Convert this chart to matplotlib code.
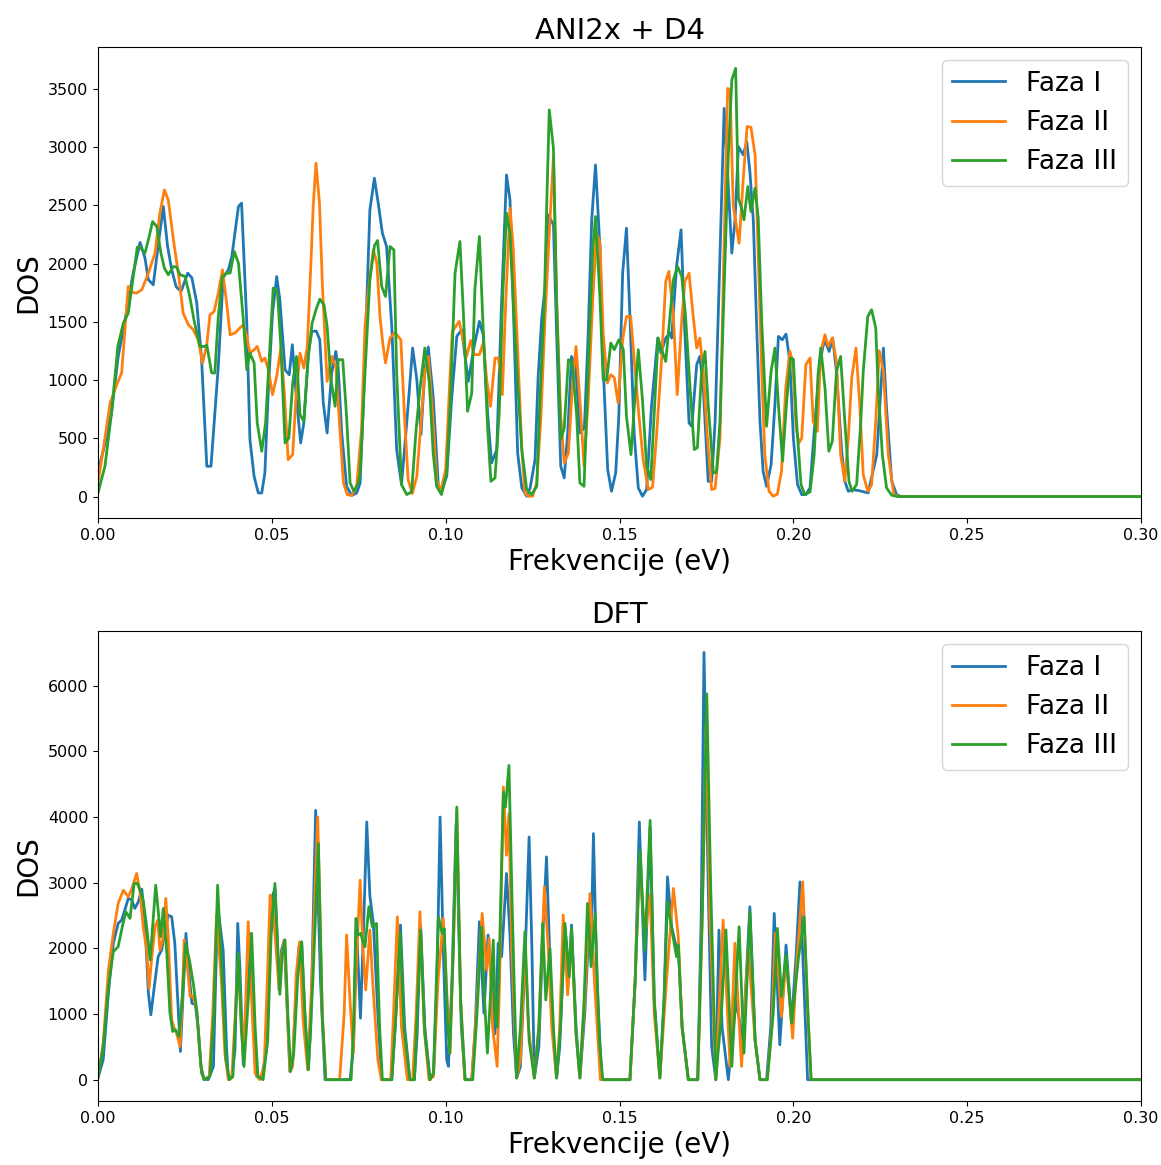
import numpy as np
import matplotlib
matplotlib.use("Agg")
import matplotlib.pyplot as plt

# --- dane: (frekwencja eV, DOS) ---
ani_faza1 = [
    (0.0, 217), (0.002, 450), (0.0039, 720), (0.0058, 1200), (0.0078, 1518), (0.0100, 1900),
    (0.0121, 2181), (0.0135, 2050), (0.0145, 1861), (0.0159, 1818), (0.0175, 2200), (0.0188, 2490),
    (0.0200, 2150), (0.0212, 1947), (0.0225, 1800), (0.0239, 1761), (0.0258, 1918), (0.0270, 1878),
    (0.0284, 1664), (0.0298, 1175), (0.0313, 260), (0.0325, 260), (0.0346, 1118), (0.0360, 1878),
    (0.0375, 1947), (0.0385, 2061), (0.0404, 2490), (0.0413, 2519), (0.0428, 1490), (0.0437, 489),
    (0.0449, 174), (0.0461, 31), (0.0471, 31), (0.0480, 203), (0.0490, 918), (0.0502, 1575),
    (0.0514, 1889), (0.0523, 1690), (0.0538, 1089), (0.0550, 1046), (0.0559, 1304), (0.0571, 832),
    (0.0583, 460), (0.0592, 632), (0.0605, 1232), (0.0615, 1418), (0.0628, 1420), (0.0638, 1346),
    (0.0648, 803), (0.0659, 546), (0.0672, 1061), (0.0684, 1246), (0.0691, 1100), (0.0701, 546),
    (0.0715, 88), (0.0730, 9), (0.0744, 31), (0.0754, 117), (0.0763, 775), (0.0782, 2461),
    (0.0795, 2733), (0.0806, 2519), (0.0818, 2261), (0.0830, 2147), (0.0845, 1461), (0.0859, 403),
    (0.0873, 103), (0.0888, 632), (0.0905, 1275), (0.0917, 1003), (0.0929, 532), (0.0940, 1089),
    (0.0950, 1284), (0.0964, 860), (0.0979, 88), (0.0988, 45), (0.1003, 174), (0.1017, 832),
    (0.1032, 1375), (0.1046, 1432), (0.1065, 989), (0.1082, 1290), (0.1097, 1504), (0.1108, 1390),
    (0.1121, 700), (0.1132, 289), (0.1147, 403), (0.1160, 1600), (0.1175, 2761), (0.1185, 2547),
    (0.1194, 1690), (0.1207, 375), (0.1219, 75), (0.1233, 3), (0.1243, 75), (0.1257, 317),
    (0.1266, 1032), (0.1276, 1518), (0.1286, 1804), (0.1295, 2418), (0.1310, 2333), (0.1319, 1404),
    (0.1331, 260), (0.1341, 160), (0.1351, 546), (0.1362, 1203), (0.1374, 1118), (0.1386, 546),
    (0.1399, 590), (0.1410, 1404), (0.1420, 2376), (0.1431, 2847), (0.1444, 2118), (0.1453, 1118),
    (0.1466, 232), (0.1477, 45), (0.1489, 203), (0.1498, 689), (0.1509, 1918), (0.1520, 2304),
    (0.1530, 1546), (0.1542, 546), (0.1554, 75), (0.1566, 3), (0.1578, 60), (0.1592, 775),
    (0.1610, 1361), (0.1619, 1232), (0.1633, 1361), (0.1645, 1404), (0.1650, 1361), (0.1664, 1975),
    (0.1677, 2290), (0.1688, 1404), (0.1700, 632), (0.1708, 603), (0.1722, 1132), (0.1731, 1203),
    (0.1741, 932), (0.1755, 131), (0.1765, 131), (0.1775, 646), (0.1789, 2075), (0.1801, 3333),
    (0.1813, 2647), (0.1823, 2090), (0.1832, 2361), (0.1842, 3004), (0.1856, 2933), (0.1866, 3047),
    (0.1875, 2790), (0.1885, 2361), (0.1894, 1504), (0.1904, 646), (0.1913, 217), (0.1923, 88),
    (0.1936, 274), (0.1947, 789), (0.1957, 1375), (0.1968, 1346), (0.1979, 1395), (0.1990, 1160),
    (0.2000, 503), (0.2012, 103), (0.2024, 17), (0.2036, 17), (0.2048, 75), (0.2062, 646),
    (0.2077, 1160), (0.2089, 1346), (0.2103, 1246), (0.2113, 1361), (0.2124, 1075), (0.2139, 389),
    (0.2148, 131), (0.2158, 45), (0.2170, 60), (0.2190, 50), (0.2215, 31), (0.2240, 360),
    (0.2259, 1275), (0.2268, 761), (0.2283, 131), (0.2297, 17), (0.2310, 0), (0.30, 0),
]

ani_faza2 = [
    (0.0, 117), (0.0015, 403), (0.0035, 803), (0.0054, 961), (0.0068, 1061), (0.0087, 1804),
    (0.0101, 1750), (0.0111, 1747), (0.0126, 1775), (0.0145, 1918), (0.0164, 2090), (0.0178, 2433),
    (0.0191, 2633), (0.0202, 2547), (0.0217, 2204), (0.0231, 1918), (0.0245, 1575), (0.0260, 1475),
    (0.0274, 1432), (0.0288, 1346), (0.0301, 1147), (0.0313, 1304), (0.0322, 1561), (0.0334, 1589),
    (0.0346, 1747), (0.0358, 1947), (0.0370, 1661), (0.0380, 1389), (0.0394, 1404), (0.0408, 1447),
    (0.0418, 1475), (0.0428, 1375), (0.0437, 1232), (0.0449, 1260), (0.0458, 1289), (0.0471, 1160),
    (0.0480, 1189), (0.0490, 1089), (0.0502, 875), (0.0514, 1032), (0.0526, 1275), (0.0536, 889),
    (0.0547, 317), (0.0560, 360), (0.0569, 832), (0.0581, 1232), (0.0592, 1104), (0.0602, 1289),
    (0.0612, 1975), (0.0619, 2490), (0.0627, 2862), (0.0637, 2519), (0.0646, 1775), (0.0659, 989),
    (0.0672, 1203), (0.0684, 1118), (0.0696, 575), (0.0706, 117), (0.0717, 17), (0.0730, 9),
    (0.0744, 88), (0.0758, 575), (0.0768, 1461), (0.0779, 1804), (0.0792, 2118), (0.0802, 2004),
    (0.0811, 1546), (0.0819, 1318), (0.0827, 1147), (0.0840, 1361), (0.0854, 1409), (0.0871, 1346),
    (0.0883, 603), (0.0892, 146), (0.0904, 26), (0.0917, 174), (0.0929, 632), (0.0940, 1061),
    (0.0950, 1203), (0.0961, 775), (0.0974, 146), (0.0986, 45), (0.1000, 232), (0.1012, 1000),
    (0.1019, 1418), (0.1039, 1504), (0.1060, 1203), (0.1072, 1340), (0.1082, 1218), (0.1097, 1218),
    (0.1108, 1318), (0.1118, 1003), (0.1129, 775), (0.1142, 1189), (0.1152, 1189), (0.1163, 875),
    (0.1173, 1690), (0.1185, 2476), (0.1194, 2147), (0.1207, 1261), (0.1219, 403), (0.1228, 31),
    (0.1238, 3), (0.1250, 3), (0.1262, 117), (0.1274, 689), (0.1286, 1546), (0.1298, 2261),
    (0.1310, 2919), (0.1319, 1690), (0.1331, 689), (0.1341, 289), (0.1353, 375), (0.1365, 975),
    (0.1375, 1289), (0.1386, 832), (0.1398, 260), (0.1410, 832), (0.1423, 1690), (0.1434, 2261),
    (0.1444, 2175), (0.1453, 1404), (0.1465, 975), (0.1475, 1046), (0.1485, 1020), (0.1496, 803),
    (0.1509, 1346), (0.1520, 1546), (0.1532, 1546), (0.1544, 1118), (0.1556, 689), (0.1568, 317),
    (0.1583, 60), (0.1595, 80), (0.1607, 546), (0.1621, 1175), (0.1633, 1847), (0.1642, 1933),
    (0.1655, 1546), (0.1666, 875), (0.1679, 1518), (0.1688, 1847), (0.1700, 1918), (0.1712, 1546),
    (0.1722, 1275), (0.1731, 1361), (0.1741, 1075), (0.1753, 503), (0.1765, 60), (0.1775, 70),
    (0.1789, 503), (0.1798, 1790), (0.1811, 3504), (0.1818, 3490), (0.1827, 2504), (0.1837, 2304),
    (0.1844, 2175), (0.1856, 2733), (0.1867, 3176), (0.1878, 3170), (0.1890, 2933), (0.1899, 2075),
    (0.1909, 1075), (0.1918, 360), (0.1930, 45), (0.1942, 3), (0.1954, 20), (0.1966, 217),
    (0.1978, 932), (0.1990, 1246), (0.1998, 1160), (0.2008, 589), (0.2016, 460), (0.2024, 500),
    (0.2036, 1132), (0.2048, 1189), (0.2057, 646), (0.2069, 560), (0.2079, 1246), (0.2091, 1389),
    (0.2100, 1289), (0.2112, 1361), (0.2124, 1160), (0.2136, 360), (0.2148, 131), (0.2158, 503),
    (0.2168, 1018), (0.2180, 1275), (0.2191, 789), (0.2201, 189), (0.2214, 45), (0.2225, 100),
    (0.2237, 646), (0.2247, 1252), (0.2259, 1075), (0.2273, 360), (0.2289, 17), (0.2305, 0), (0.30, 0),
]

ani_faza3 = [
    (0.0, 31), (0.002, 260), (0.0039, 718), (0.0057, 1289), (0.0073, 1490), (0.0087, 1575),
    (0.0102, 1904), (0.0113, 2141), (0.0121, 2141), (0.0135, 2090), (0.0145, 2204), (0.0157, 2361),
    (0.0169, 2318), (0.0181, 2090), (0.0191, 1961), (0.0202, 1904), (0.0217, 1975), (0.0226, 1970),
    (0.0236, 1904), (0.0250, 1890), (0.0263, 1732), (0.0276, 1518), (0.0293, 1289), (0.0308, 1289),
    (0.0313, 1300), (0.0327, 1061), (0.0336, 1061), (0.0346, 1546), (0.0358, 1890), (0.0370, 1918),
    (0.0380, 1918), (0.0392, 2104), (0.0404, 2004), (0.0418, 1518), (0.0428, 1089), (0.0437, 1232),
    (0.0449, 1147), (0.0458, 632), (0.0471, 389), (0.0482, 632), (0.0493, 1203), (0.0504, 1790),
    (0.0516, 1761), (0.0526, 1289), (0.0538, 460), (0.0549, 503), (0.0560, 975), (0.0571, 1203),
    (0.0581, 703), (0.0592, 646), (0.0605, 1203), (0.0616, 1490), (0.0627, 1604), (0.0638, 1695),
    (0.0650, 1647), (0.0659, 1461), (0.0670, 1003), (0.0682, 775), (0.0691, 1175), (0.0704, 1175),
    (0.0715, 689), (0.0725, 117), (0.0736, 45), (0.0749, 117), (0.0754, 203), (0.0768, 1061),
    (0.0782, 1861), (0.0795, 2153), (0.0804, 2198), (0.0816, 1804), (0.0827, 1718), (0.0840, 2147),
    (0.0851, 2118), (0.0859, 1061), (0.0873, 103), (0.0888, 17), (0.0902, 40), (0.0915, 575),
    (0.0926, 918), (0.0940, 1275), (0.0953, 975), (0.0964, 375), (0.0974, 88), (0.0988, 17),
    (0.1003, 203), (0.1014, 860), (0.1027, 1918), (0.1041, 2190), (0.1051, 1575), (0.1063, 732),
    (0.1075, 889), (0.1084, 1775), (0.1097, 2233), (0.1108, 1432), (0.1121, 575), (0.1130, 131),
    (0.1142, 160), (0.1154, 718), (0.1164, 1718), (0.1175, 2433), (0.1185, 2261), (0.1194, 1690),
    (0.1207, 975), (0.1219, 403), (0.1233, 60), (0.1247, 17), (0.1262, 88), (0.1271, 832),
    (0.1284, 1690), (0.1291, 2547), (0.1298, 3319), (0.1310, 2990), (0.1319, 1690), (0.1331, 489),
    (0.1341, 589), (0.1353, 1175), (0.1364, 1147), (0.1377, 689), (0.1386, 117), (0.1398, 88),
    (0.1410, 1118), (0.1423, 2118), (0.1431, 2404), (0.1444, 1690), (0.1453, 1003), (0.1463, 1003),
    (0.1475, 1318), (0.1485, 1261), (0.1498, 1346), (0.1511, 1261), (0.1520, 689), (0.1533, 360),
    (0.1544, 832), (0.1554, 1261), (0.1566, 832), (0.1578, 260), (0.1590, 146), (0.1600, 718),
    (0.1611, 1361), (0.1621, 1261), (0.1633, 1160), (0.1645, 1546), (0.1655, 1861), (0.1667, 1975),
    (0.1679, 1890), (0.1690, 1546), (0.1702, 975), (0.1715, 403), (0.1724, 420), (0.1736, 1075),
    (0.1746, 1246), (0.1755, 789), (0.1770, 203), (0.1779, 210), (0.1789, 646), (0.1801, 1790),
    (0.1813, 2933), (0.1823, 3576), (0.1834, 3676), (0.1842, 2561), (0.1851, 2476), (0.1858, 2376),
    (0.1869, 2661), (0.1878, 2447), (0.1890, 2647), (0.1899, 2390), (0.1909, 1504), (0.1918, 932),
    (0.1923, 603), (0.1936, 1075), (0.1947, 1275), (0.1957, 789), (0.1969, 303), (0.1980, 789),
    (0.1992, 1189), (0.2000, 1180), (0.2009, 646), (0.2022, 103), (0.2033, 17), (0.2048, 40),
    (0.2060, 360), (0.2071, 1046), (0.2079, 1275), (0.2091, 932), (0.2102, 389), (0.2112, 474),
    (0.2124, 1075), (0.2136, 1203), (0.2148, 646), (0.2160, 131), (0.2169, 45), (0.2182, 103),
    (0.2194, 646), (0.2201, 1075), (0.2214, 1546), (0.2225, 1604), (0.2237, 1447), (0.2244, 932),
    (0.2256, 360), (0.2268, 75), (0.2283, 11), (0.2300, 0), (0.30, 0),
]

dft_faza1 = [
    (0.0, 26), (0.0015, 304), (0.003, 1317), (0.0044, 2077), (0.0058, 2380), (0.0068, 2430),
    (0.008, 2633), (0.0087, 2760), (0.0097, 2740), (0.0106, 2608), (0.0116, 2709), (0.0126, 2900),
    (0.0135, 2400), (0.0145, 1317), (0.0152, 987), (0.0162, 1418), (0.0173, 1873), (0.0183, 1975),
    (0.0192, 2250), (0.0202, 2506), (0.0212, 2480), (0.0221, 2077), (0.0231, 1063), (0.0237, 430),
    (0.0245, 1317), (0.0253, 2228), (0.026, 1721), (0.027, 1165), (0.028, 1140), (0.0288, 800),
    (0.0298, 101), (0.0305, 10), (0.0317, 0), (0.0332, 203), (0.0344, 2650), (0.036, 1975),
    (0.037, 456), (0.0375, 30), (0.0385, 30), (0.0394, 456), (0.0402, 2380), (0.0408, 1721),
    (0.0418, 228), (0.0428, 1367), (0.0437, 2228), (0.0447, 1000), (0.0456, 50), (0.047, 20),
    (0.0485, 456), (0.0495, 1975), (0.0501, 2785), (0.0509, 2912), (0.0517, 1975), (0.0521, 1367),
    (0.0528, 1975), (0.0536, 2127), (0.0543, 1215), (0.0552, 126), (0.056, 300), (0.0571, 1469),
    (0.0578, 2025), (0.0586, 2050), (0.0595, 1000), (0.0605, 152), (0.0612, 800), (0.0626, 4101),
    (0.064, 1500), (0.0653, 0), (0.0725, 0), (0.0735, 500), (0.0743, 2400), (0.0755, 937),
    (0.0765, 2500), (0.0773, 3924), (0.0782, 2800), (0.0792, 2380), (0.0805, 1000), (0.0816, 0),
    (0.0845, 0), (0.0855, 800), (0.087, 2355), (0.0882, 800), (0.0897, 0), (0.091, 0),
    (0.0918, 700), (0.0928, 2350), (0.094, 800), (0.0955, 0), (0.0965, 100), (0.0975, 1500),
    (0.0984, 4000), (0.0993, 2000), (0.1003, 300), (0.1008, 203), (0.1018, 1500), (0.1030, 3900),
    (0.1045, 800), (0.1056, 0), (0.1075, 0), (0.1085, 800), (0.1097, 2405), (0.111, 1013),
    (0.1122, 2203), (0.1135, 1300), (0.1142, 700), (0.1151, 2077), (0.1161, 1873), (0.1175, 3140),
    (0.1185, 2200), (0.1195, 700), (0.1204, 26), (0.1215, 200), (0.1228, 1800), (0.124, 3696),
    (0.1248, 2000), (0.1255, 26), (0.1268, 500), (0.128, 2300), (0.129, 3392), (0.130, 1800),
    (0.131, 600), (0.1319, 26), (0.1328, 500), (0.1343, 2330), (0.1355, 1569), (0.1362, 2355),
    (0.1375, 800), (0.1386, 26), (0.140, 1000), (0.1413, 2400), (0.1418, 1900), (0.1425, 3747),
    (0.1435, 1500), (0.1449, 0), (0.153, 0), (0.1545, 1500), (0.1557, 3924), (0.1573, 1519),
    (0.1588, 3850), (0.160, 1200), (0.1616, 26), (0.1628, 1200), (0.1638, 3089), (0.165, 2329),
    (0.1664, 2000), (0.1669, 2051), (0.168, 800), (0.1698, 0), (0.1725, 0), (0.1735, 2500),
    (0.1743, 6506), (0.1755, 3000), (0.1765, 500), (0.1777, 0), (0.1786, 2279), (0.1795, 800),
    (0.1813, 0), (0.1835, 1200), (0.1855, 600), (0.1875, 2633), (0.189, 600), (0.1904, 0),
    (0.1923, 0), (0.1935, 800), (0.1945, 2532), (0.1961, 532), (0.1979, 2051), (0.1995, 861),
    (0.2008, 1900), (0.2019, 3013), (0.203, 1500), (0.2041, 0), (0.30, 0),
]

dft_faza2 = [
    (0.0, 50), (0.0015, 557), (0.003, 1671), (0.0044, 2228), (0.0058, 2684), (0.0073, 2886),
    (0.0087, 2785), (0.0097, 2900), (0.0111, 3140), (0.0121, 2861), (0.013, 2329), (0.014, 1975),
    (0.0147, 1393), (0.0154, 1823), (0.0164, 2329), (0.0172, 2430), (0.0178, 1975), (0.0186, 2127),
    (0.0195, 2760), (0.0202, 2178), (0.0212, 911), (0.0219, 785), (0.0226, 709), (0.0236, 506),
    (0.0243, 1317), (0.0248, 2127), (0.0258, 1671), (0.0265, 1266), (0.0274, 1270), (0.0284, 1063),
    (0.0296, 200), (0.0305, 0), (0.032, 50), (0.033, 1000), (0.0341, 2506), (0.0355, 1500),
    (0.0365, 400), (0.0375, 0), (0.0385, 30), (0.0395, 1000), (0.0403, 1800), (0.0412, 900),
    (0.0418, 300), (0.0425, 1200), (0.0432, 2405), (0.0442, 1200), (0.0452, 100), (0.0465, 0),
    (0.0478, 200), (0.0487, 1500), (0.0495, 2810), (0.0505, 2500), (0.0515, 1800), (0.0521, 1367),
    (0.0528, 1900), (0.0536, 2127), (0.0545, 1000), (0.0552, 126), (0.056, 200), (0.057, 1600),
    (0.058, 2100), (0.059, 900), (0.0603, 152), (0.0615, 1500), (0.0632, 4000), (0.0645, 1000),
    (0.0655, 0), (0.0695, 0), (0.0708, 1000), (0.0715, 2203), (0.0725, 1200), (0.0734, 405),
    (0.0745, 2000), (0.0754, 3038), (0.0762, 2000), (0.077, 1367), (0.0782, 2279), (0.079, 1500),
    (0.0805, 300), (0.0815, 0), (0.0842, 0), (0.085, 1000), (0.0861, 2481), (0.0873, 800),
    (0.089, 0), (0.0905, 0), (0.0915, 1000), (0.0926, 2557), (0.0938, 800), (0.0952, 0),
    (0.0965, 50), (0.0978, 1500), (0.0993, 2456), (0.1012, 405), (0.1022, 2000), (0.1032, 4100),
    (0.1043, 1200), (0.1055, 0), (0.1075, 0), (0.1088, 1000), (0.1105, 2532), (0.1118, 1671),
    (0.1125, 2150), (0.1135, 800), (0.1148, 203), (0.1155, 1500), (0.1166, 4456), (0.1175, 3418),
    (0.1182, 4051), (0.119, 2000), (0.1204, 26), (0.1215, 300), (0.1228, 2000), (0.1238, 800),
    (0.1255, 26), (0.1268, 800), (0.1284, 2937), (0.1295, 2000), (0.1305, 800), (0.1319, 26),
    (0.1328, 800), (0.1338, 2506), (0.1351, 1291), (0.1362, 2200), (0.1375, 700), (0.1386, 26),
    (0.140, 1200), (0.1415, 2835), (0.1428, 1500), (0.1445, 0), (0.153, 0), (0.1545, 1500),
    (0.1557, 3342), (0.1573, 2178), (0.1588, 2810), (0.160, 1000), (0.1616, 26), (0.1635, 1500),
    (0.1655, 2912), (0.1669, 2178), (0.168, 800), (0.1698, 0), (0.1725, 0), (0.1738, 2500),
    (0.1749, 5418), (0.176, 2500), (0.1777, 0), (0.1798, 2430), (0.1818, 203), (0.1832, 2077),
    (0.1851, 203), (0.187, 2000), (0.189, 600), (0.1904, 0), (0.1925, 0), (0.1938, 800),
    (0.1948, 2228), (0.1966, 962), (0.1979, 1850), (0.1998, 633), (0.201, 1800), (0.2027, 3013),
    (0.204, 1200), (0.2051, 0), (0.30, 0),
]

dft_faza3 = [
    (0.0, 26), (0.0015, 506), (0.003, 1418), (0.0044, 1949), (0.0058, 2025), (0.007, 2329),
    (0.008, 2557), (0.0092, 2456), (0.0104, 2988), (0.0113, 2990), (0.0121, 2886), (0.013, 2734),
    (0.014, 2329), (0.015, 1823), (0.0157, 2329), (0.0166, 2962), (0.0173, 2582), (0.018, 2178),
    (0.0188, 2608), (0.0198, 1924), (0.0207, 1013), (0.0215, 734), (0.0223, 760), (0.0233, 658),
    (0.0243, 1300), (0.0252, 2077), (0.0263, 1823), (0.0274, 1469), (0.0284, 1063), (0.0296, 203),
    (0.0305, 0), (0.0322, 50), (0.0333, 1000), (0.0344, 2962), (0.0357, 1600), (0.0368, 300),
    (0.0378, 0), (0.0388, 50), (0.0396, 1000), (0.0404, 1924), (0.0412, 800), (0.042, 200),
    (0.0432, 1200), (0.0442, 2228), (0.0452, 800), (0.046, 50), (0.0475, 0), (0.0488, 600),
    (0.0498, 2200), (0.0509, 2988), (0.0517, 2000), (0.0523, 1300), (0.053, 1900), (0.0538, 2127),
    (0.0546, 1000), (0.0554, 126), (0.0563, 400), (0.0575, 1600), (0.0586, 2101), (0.0595, 1000),
    (0.0605, 152), (0.0618, 1500), (0.0634, 3595), (0.0645, 1000), (0.0655, 0), (0.0728, 0),
    (0.0735, 800), (0.0742, 2456), (0.0748, 2200), (0.0756, 2228), (0.0762, 2100), (0.0768, 2025),
    (0.0779, 2633), (0.0789, 2329), (0.0801, 2380), (0.081, 800), (0.0818, 0), (0.0845, 0),
    (0.0857, 1000), (0.0869, 2228), (0.088, 800), (0.0897, 0), (0.091, 0), (0.0918, 1000),
    (0.0928, 2279), (0.094, 700), (0.0955, 0), (0.0965, 100), (0.0979, 2481), (0.099, 2228),
    (0.0996, 2300), (0.1005, 900), (0.1012, 400), (0.1022, 2000), (0.1032, 4152), (0.1043, 1200),
    (0.1056, 0), (0.1078, 0), (0.109, 1000), (0.1103, 2329), (0.1112, 1200), (0.112, 405),
    (0.1128, 1200), (0.1137, 2127), (0.1142, 1013), (0.1148, 800), (0.1155, 2000), (0.1166, 4380),
    (0.1172, 4152), (0.1182, 4785), (0.1192, 2500), (0.1204, 26), (0.1215, 800), (0.1228, 2253),
    (0.124, 600), (0.1255, 26), (0.1268, 800), (0.1279, 2380), (0.1288, 1215), (0.130, 2000),
    (0.131, 800), (0.1319, 26), (0.133, 800), (0.1343, 2380), (0.1355, 1569), (0.1362, 2300),
    (0.1375, 700), (0.1386, 26), (0.1398, 1200), (0.1408, 2684), (0.1418, 1721), (0.143, 2532),
    (0.1442, 600), (0.1452, 0), (0.153, 0), (0.1545, 1500), (0.1559, 3494), (0.1573, 1975),
    (0.1588, 3949), (0.160, 1200), (0.1616, 26), (0.1628, 1200), (0.1638, 2709), (0.165, 2300),
    (0.1664, 1873), (0.1669, 2051), (0.168, 800), (0.1698, 0), (0.1725, 0), (0.1738, 2500),
    (0.1751, 5874), (0.1762, 3000), (0.1777, 0), (0.1793, 1000), (0.1806, 2279), (0.1823, 203),
    (0.1844, 2329), (0.1858, 405), (0.1875, 2550), (0.189, 600), (0.1904, 0), (0.1925, 0),
    (0.1942, 1000), (0.1954, 2304), (0.1966, 1266), (0.1979, 1900), (0.1995, 861), (0.2014, 1823),
    (0.2031, 2481), (0.2042, 1000), (0.2051, 0), (0.30, 0),
]

faze = ["Faza I", "Faza II", "Faza III"]
naslovi = ["ANI2x + D4", "DFT"]

# --- rysowanie ---
fig = plt.figure(figsize=(11.61, 11.65), dpi=100)
ax_top = fig.add_axes([0.0844, 0.5554, 0.8984, 0.4043])
ax_bot = fig.add_axes([0.0844, 0.0549, 0.8984, 0.4034])

panele = [(ax_top, [ani_faza1, ani_faza2, ani_faza3]),
          (ax_bot, [dft_faza1, dft_faza2, dft_faza3])]

for (ax, serie), tytul in zip(panele, naslovi):
    for pts, nazwa in zip(serie, faze):
        x, y = zip(*pts)
        ax.plot(x, y, linewidth=2, label=nazwa)
    ax.set_xlim(0, 0.30)
    ax.set_title(tytul, fontsize=21)
    ax.set_xlabel("Frekvencije (eV)", fontsize=20)
    ax.set_ylabel("DOS", fontsize=20)
    ax.tick_params(labelsize=11.5)
    ax.legend(loc="upper right", fontsize=19)

fig.savefig("out.png", dpi=100)
